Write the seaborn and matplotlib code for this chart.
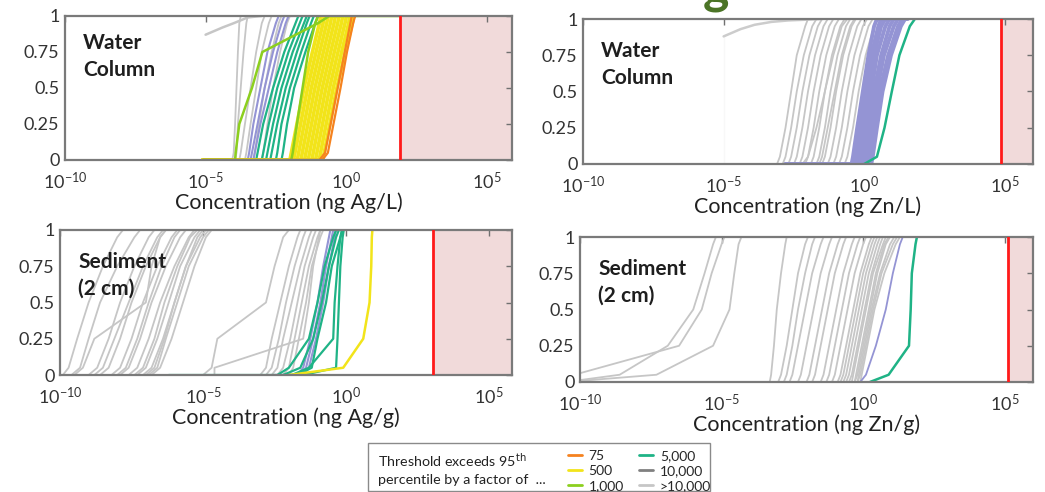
import numpy as np
import pandas as pd
import matplotlib
matplotlib.use("Agg")
import matplotlib.pyplot as plt
import seaborn as sns
from matplotlib.lines import Line2D
from matplotlib.patches import Rectangle
from matplotlib.ticker import NullLocator, FixedLocator

# ---------------- data (log10 concentration at each cumulative level) -------------
LEVELS = [0, 0, 0.05, 0.25, 0.5, 0.75, 0.95, 1, 1]

# Panel A : Ag, water column (ng Ag/L)
ag_w_gt10000 = [
    [-5.1, -4.05, -4.0, -3.95, -3.9, -3.85, -3.8, -3.75, -3.5],
    [-5.1, -3.95, -3.9, -3.85, -3.75, -3.65, -3.55, -3.5, -3.0],
    [-5.1, -3.8, -3.75, -3.6, -3.4, -3.2, -3.0, -2.9, -2.5],
    [-5.1, -3.6, -3.55, -3.4, -3.2, -3.0, -2.75, -2.65, -2.3],
    [-5.1, -3.3, -3.25, -3.1, -2.9, -2.65, -2.4, -2.3, -2.0],
    [-5.1, -3.0, -2.95, -2.8, -2.6, -2.35, -2.1, -2.0, -1.8],
]
ag_w_arc_x = [-5.0, -4.4, -4.0, -3.5, -3.0]
ag_w_arc_y = [0.87, 0.92, 0.95, 0.99, 1.0]
ag_w_10000 = [
    [-5.1, -3.5, -3.45, -3.3, -3.05, -2.8, -2.5, -2.4, -2.0],
    [-5.1, -3.4, -3.35, -3.15, -2.9, -2.6, -2.3, -2.2, -1.9],
    [-5.1, -3.3, -3.25, -3.05, -2.75, -2.45, -2.15, -2.05, -1.8],
]
ag_w_5000 = [
    [-5.1, -3.2, -3.15, -2.95, -2.6, -2.2, -1.8, -1.7, -1.6],
    [-5.1, -3.0, -2.95, -2.75, -2.45, -2.05, -1.65, -1.55, -1.4],
    [-5.1, -2.85, -2.8, -2.6, -2.3, -1.9, -1.5, -1.4, -1.3],
    [-5.1, -2.7, -2.65, -2.45, -2.15, -1.75, -1.4, -1.3, -1.2],
    [-5.1, -2.5, -2.45, -2.3, -2.0, -1.6, -1.25, -1.15, -1.0],
    [-5.1, -2.3, -2.25, -2.1, -1.85, -1.45, -1.1, -1.0, -0.9],
]
ag_w_1000 = [
    [-5.1, -3.95, -3.93, -3.8, -3.35, -2.98, -1.0, -0.6, 1.87],
    [-5.1, -1.95, -1.9, -1.75, -1.55, -1.35, -1.1, -1.0, -0.9],
]
ag_w_500 = [
    [-5.1, -2.0, -1.95, -1.75, -1.5, -1.2, -0.95, -0.9, -0.8],
    [-5.1, -1.87, -1.82, -1.62, -1.37, -1.07, -0.82, -0.77, -0.6],
    [-5.1, -1.74, -1.69, -1.49, -1.24, -0.94, -0.69, -0.64, -0.5],
    [-5.1, -1.61, -1.56, -1.36, -1.11, -0.81, -0.56, -0.51, -0.4],
    [-5.1, -1.48, -1.43, -1.23, -0.98, -0.68, -0.43, -0.38, -0.3],
    [-5.1, -1.35, -1.3, -1.1, -0.85, -0.55, -0.3, -0.25, -0.2],
    [-5.1, -1.22, -1.17, -0.97, -0.72, -0.42, -0.17, -0.12, -0.1],
    [-5.1, -1.09, -1.04, -0.84, -0.59, -0.29, -0.04, 0.01, 0.05],
    [-5.1, -0.96, -0.91, -0.71, -0.46, -0.16, 0.09, 0.14, 0.15],
    [-5.1, -0.83, -0.78, -0.58, -0.33, -0.03, 0.22, 0.27, 0.3],
]
ag_w_75 = [
    [-5.1, -0.95, -0.75, -0.55, -0.3, -0.05, 0.15, 0.2, 0.25],
    [-5.1, -0.85, -0.65, -0.45, -0.2, 0.03, 0.25, 0.32, 0.35],
]

# Panel B : Zn, water column (ng Zn/L)
zn_w_gt10000 = [
    [-3.7, -3.1, -3.0, -2.8, -2.6, -2.4, -2.1, -2.0, -1.2],
    [-3.7, -2.9, -2.8, -2.6, -2.4, -2.15, -1.85, -1.7, -1.2],
    [-3.5, -2.7, -2.6, -2.4, -2.2, -1.95, -1.65, -1.5, -1.0],
    [-3.5, -2.5, -2.4, -2.2, -2.0, -1.75, -1.45, -1.3, -1.0],
    [-3.3, -2.3, -2.2, -2.0, -1.8, -1.55, -1.25, -1.1, -0.8],
    [-3.3, -2.1, -2.0, -1.8, -1.6, -1.35, -1.05, -0.9, -0.6],
    [-3.0, -1.9, -1.8, -1.6, -1.4, -1.15, -0.85, -0.7, -0.4],
    [-3.0, -1.7, -1.6, -1.4, -1.2, -0.95, -0.65, -0.5, -0.2],
    [-2.8, -1.5, -1.4, -1.2, -1.0, -0.75, -0.45, -0.3, 0.0],
    [-2.8, -1.3, -1.2, -1.0, -0.8, -0.55, -0.25, -0.1, 0.2],
    [-2.5, -1.1, -1.0, -0.8, -0.6, -0.35, -0.05, 0.1, 0.4],
    [-2.5, -0.9, -0.8, -0.6, -0.4, -0.15, 0.15, 0.3, 0.5],
    [-2.2, -0.7, -0.6, -0.4, -0.2, 0.05, 0.35, 0.5, 0.7],
    [-3.0, -2.2, -2.0, -1.7, -1.4, -1.1, -0.8, -0.6, -0.3],
    [-2.8, -1.6, -1.5, -1.3, -1.05, -0.8, -0.5, -0.35, 0.1],
]
zn_w_faint_x = [-5.0, -5.0]
zn_w_faint_y = [0.0, 0.88]
zn_w_arc_x = [-5.0, -4.4, -3.9, -3.3, -2.7, -1.5]
zn_w_arc_y = [0.88, 0.93, 0.96, 0.98, 0.99, 1.0]
zn_w_10000 = [
    [-2.8, -0.45, -0.4, -0.25, -0.05, 0.15, 0.35, 0.45, 0.8],
    [-2.8, -0.35, -0.3, -0.15, 0.05, 0.25, 0.5, 0.6, 0.9],
    [-2.5, -0.25, -0.2, -0.05, 0.15, 0.35, 0.6, 0.75, 1.0],
    [-2.5, -0.15, -0.1, 0.05, 0.25, 0.45, 0.75, 0.9, 1.1],
    [-2.2, -0.05, 0.0, 0.15, 0.35, 0.6, 0.9, 1.05, 1.2],
    [-2.2, 0.05, 0.1, 0.25, 0.45, 0.7, 1.05, 1.2, 1.3],
    [-2.0, 0.15, 0.2, 0.35, 0.55, 0.85, 1.2, 1.35, 1.45],
    [-2.0, 0.25, 0.3, 0.45, 0.65, 0.95, 1.3, 1.45, 1.55],
]
zn_w_5000 = [
    [0.0, 0.0, 0.45, 0.72, 0.98, 1.25, 1.62, 1.8, 1.8],
]

# Panel C : Ag, sediment 2 cm (ng Ag/g)
ag_s_gt10000 = [
    [-9.9, -9.9, -9.7, -9.4, -9.0, -8.5, -8.0, -7.8, -7.8],
    [-9.9, -9.6, -9.3, -9.0, -8.6, -8.0, -7.4, -7.2, -7.2],
    [-9.9, -9.5, -9.2, -8.8, -7.0, -6.8, -6.5, -6.3, -6.3],
    [-9.8, -9.0, -8.7, -8.3, -7.9, -7.4, -6.9, -6.7, -6.7],
    [-9.5, -8.6, -8.3, -7.9, -7.5, -7.0, -6.5, -6.3, -6.3],
    [-9.0, -8.2, -7.9, -7.5, -7.1, -6.6, -6.1, -5.9, -5.9],
    [-8.8, -7.9, -7.6, -7.2, -6.8, -6.3, -5.8, -5.6, -5.6],
    [-8.5, -7.6, -7.3, -6.9, -6.5, -6.0, -5.5, -5.3, -5.3],
    [-8.2, -7.3, -7.0, -6.6, -6.2, -5.8, -5.3, -5.1, -5.1],
    [-8.0, -7.1, -6.8, -6.4, -6.0, -5.6, -5.1, -4.9, -4.9],
    [-7.8, -6.9, -6.6, -6.3, -5.9, -5.5, -5.0, -4.8, -4.8],
    [-7.5, -6.8, -6.5, -6.1, -5.7, -5.3, -4.9, -4.7, -4.7],
    [-8.6, -7.4, -7.1, -6.7, -6.35, -5.9, -5.45, -5.2, -5.2],
    [-8.3, -7.0, -6.7, -6.35, -6.0, -5.6, -5.2, -5.0, -5.0],
    [-9.7, -8.8, -8.5, -8.1, -7.6, -7.1, -6.6, -6.4, -6.4],
    [-9.2, -8.0, -7.7, -7.3, -6.9, -6.45, -6.0, -5.8, -5.8],
    [-6.5, -5.0, -4.7, -4.5, -2.8, -2.5, -2.2, -2.0, -2.0],
    [-4.5, -3.0, -2.8, -2.6, -2.3, -2.0, -1.7, -1.6, -1.6],
    [-4.0, -2.8, -2.6, -2.35, -2.1, -1.8, -1.5, -1.4, -1.4],
    [-4.7, -2.6, -2.4, -2.2, -1.9, -1.6, -1.3, -1.2, -1.2],
    [-3.5, -2.4, -2.2, -1.95, -1.7, -1.45, -1.15, -1.05, -1.05],
    [-4.5, -2.2, -2.0, -1.8, -1.55, -1.3, -1.0, -0.9, -0.9],
    [-3.0, -2.0, -1.85, -1.65, -1.4, -1.2, -0.9, -0.8, -0.8],
    [-4.7, -4.6, -4.6, -1.5, -1.3, -1.15, -0.95, -0.9, -0.9],
]
ag_s_10000 = [
    [-2.5, -1.7, -1.5, -1.25, -1.0, -0.8, -0.6, -0.55, -0.55],
    [-2.5, -1.6, -1.4, -1.15, -0.9, -0.7, -0.5, -0.45, -0.45],
    [-2.5, -1.5, -1.3, -1.05, -0.8, -0.6, -0.4, -0.35, -0.35],
]
ag_s_5000 = [
    [-6.2, -2.4, -2.0, -1.3, -1.0, -0.75, -0.45, -0.35, -0.35],
    [-2.4, -2.2, -1.6, -1.15, -0.85, -0.6, -0.35, -0.25, -0.25],
    [-2.2, -1.9, -1.3, -0.45, -0.4, -0.3, -0.2, -0.15, -0.15],
    [-2.0, -1.7, -1.2, -1.0, -0.7, -0.5, -0.2, -0.1, -0.1],
    [-1.8, -1.5, -0.35, -0.3, -0.25, -0.2, -0.12, -0.08, -0.08],
]
ag_s_500 = [
    [-2.0, -2.0, -0.1, 0.6, 0.82, 0.88, 0.9, 0.92, 0.92],
]

# Panel D : Zn, sediment 2 cm (ng Zn/g)
zn_s_gt10000 = [
    [-10.5, -10.5, -10.2, -6.5, -5.7, -5.35, -5.0, -4.9, -4.9],
    [-10.5, -10.5, -7.3, -5.3, -4.72, -4.55, -4.4, -4.3, -4.3],
    [-10.5, -10.5, -8.6, -6.9, -6.0, -5.6, -5.3, -5.2, -5.2],
    [-5.0, -3.3, -3.25, -3.15, -3.05, -2.9, -2.75, -2.7, -2.7],
    [-5.0, -3.0, -2.9, -2.7, -2.5, -2.3, -2.05, -1.95, -1.95],
    [-4.5, -2.8, -2.7, -2.5, -2.3, -2.05, -1.8, -1.7, -1.7],
    [-4.5, -2.6, -2.5, -2.3, -2.05, -1.8, -1.5, -1.4, -1.4],
    [-4.0, -2.3, -2.2, -2.0, -1.75, -1.5, -1.2, -1.1, -1.1],
    [-4.0, -2.0, -1.9, -1.7, -1.45, -1.2, -0.9, -0.8, -0.8],
    [-3.5, -1.8, -1.7, -1.5, -1.25, -1.0, -0.7, -0.6, -0.6],
    [-3.5, -1.5, -1.4, -1.2, -0.95, -0.7, -0.4, -0.3, -0.3],
    [-3.0, -1.3, -1.2, -1.0, -0.75, -0.5, -0.2, -0.1, -0.1],
    [-3.0, -1.1, -1.0, -0.8, -0.55, -0.3, 0.0, 0.1, 0.1],
    [-2.5, -0.9, -0.8, -0.6, -0.35, -0.1, 0.2, 0.3, 0.3],
    [-2.5, -0.7, -0.6, -0.4, -0.15, 0.1, 0.4, 0.5, 0.5],
    [-2.0, -0.5, -0.4, -0.2, 0.05, 0.3, 0.6, 0.7, 0.7],
    [-2.0, -0.3, -0.25, -0.05, 0.2, 0.45, 0.75, 0.9, 0.9],
    [-1.5, -0.2, -0.15, 0.05, 0.3, 0.6, 0.95, 1.1, 1.1],
    [-1.5, -0.1, -0.05, 0.15, 0.4, 0.75, 1.15, 1.3, 1.3],
    [-1.2, -0.3, -0.2, 0.0, 0.25, 0.5, 0.8, 0.95, 0.95],
    [-1.2, -0.6, -0.5, -0.3, -0.05, 0.2, 0.5, 0.6, 0.6],
    [-2.2, -0.8, -0.7, -0.5, -0.25, 0.0, 0.3, 0.4, 0.4],
    [-2.2, -0.4, -0.35, -0.15, 0.1, 0.35, 0.7, 0.8, 0.8],
    [-1.8, -0.2, -0.1, 0.1, 0.35, 0.65, 1.05, 1.2, 1.2],
]
zn_s_10000 = [
    [-0.5, -0.1, 0.1, 0.45, 0.8, 1.05, 1.3, 1.4, 1.4],
]
zn_s_5000 = [
    [0.24, 0.24, 0.9, 1.62, 1.68, 1.72, 1.85, 1.9, 1.9],
]

# thresholds (log10) where the red line / shaded zone begins
thresholds = [1.9, 4.85, 3.05, 5.1]
x_max = [5.9, 6.0, 5.8, 6.0]
panel_labels = ["Water\nColumn", "Water\nColumn", "Sediment\n(2 cm)", "Sediment\n(2 cm)"]
x_labels = ["Concentration (ng Ag/L)", "Concentration (ng Zn/L)",
            "Concentration (ng Ag/g)", "Concentration (ng Zn/g)"]
legend_labels = ["75", "500", "1,000", "5,000", "10,000", ">10,000"]

# ---------------- styling ----------------
C75, C500, C1000, C5000, C10000, CGT = "#f5821f", "#f2e41a", "#8ccf1e", "#1fb386", "#9494d4", "#c6c6c6"
LEG_COLORS = [C75, C500, C1000, C5000, "#808080", CGT]

sns.set_theme(style="white")
plt.rcParams["font.family"] = ["Lato", "DejaVu Sans"]

fig = plt.figure(figsize=(10.45, 4.92), dpi=100)
W, H = 1045, 492
boxes = [(65, 512, 16, 160), (583, 1033, 19, 164), (60, 512, 230, 375), (580, 1033, 237, 382)]


def frame(curves):
    rows = []
    for i, c in enumerate(curves):
        for lv, y in zip(c, LEVELS):
            rows.append((i, 10.0 ** lv, y))
    return pd.DataFrame(rows, columns=["curve", "conc", "cdf"])


panels = [
    [(ag_w_gt10000, CGT, 1.3), (ag_w_10000, C10000, 1.5), (ag_w_5000, C5000, 1.6),
     (ag_w_500, C500, 2.6), (ag_w_1000, C1000, 1.8), (ag_w_75, C75, 1.6)],
    [(zn_w_gt10000, CGT, 1.3), (zn_w_10000, C10000, 2.8), (zn_w_5000, C5000, 1.8)],
    [(ag_s_gt10000, CGT, 1.3), (ag_s_10000, C10000, 1.5), (ag_s_5000, C5000, 1.6),
     (ag_s_500, C500, 1.8)],
    [(zn_s_gt10000, CGT, 1.3), (zn_s_10000, C10000, 1.3), (zn_s_5000, C5000, 1.8)],
]

for k, (l, r, t, b) in enumerate(boxes):
    ax = fig.add_axes([l / W, 1 - b / H, (r - l) / W, (b - t) / H])
    ax.set_xscale("log")
    ax.axvspan(10 ** thresholds[k], 10 ** x_max[k], color="#f1dada", zorder=0, lw=0)
    if k == 1:
        sns.lineplot(x=[10.0 ** v for v in zn_w_faint_x], y=zn_w_faint_y, sort=False,
                     color="#e0e0e0", lw=1.2, ax=ax, legend=False)
        sns.lineplot(x=[10.0 ** v for v in zn_w_arc_x], y=zn_w_arc_y, sort=False,
                     color="#cccccc", lw=1.8, ax=ax, legend=False)
    if k == 0:
        sns.lineplot(x=[10.0 ** v for v in ag_w_arc_x], y=ag_w_arc_y, sort=False,
                     color=CGT, lw=1.8, ax=ax, legend=False)
    for curves, col, lw in panels[k]:
        sns.lineplot(data=frame(curves), x="conc", y="cdf", units="curve", estimator=None,
                     sort=False, color=col, lw=lw, ax=ax, legend=False)
    ax.axvline(10 ** thresholds[k], color="#ff1a1a", lw=2, zorder=5)

    ax.set_xlim(1e-10, 10 ** x_max[k])
    ax.set_ylim(0, 1)
    ax.xaxis.set_major_locator(FixedLocator([1e-10, 1e-5, 1e0, 1e5]))
    ax.xaxis.set_minor_locator(NullLocator())
    ax.set_yticks([0, 0.25, 0.5, 0.75, 1])
    ax.set_yticklabels(["0", "0.25", "0.5", "0.75", "1"])
    ax.tick_params(direction="in", top=True, right=True, length=4, width=1,
                   color="#707070", labelsize=13, labelcolor="#333333", pad=4)
    ax.tick_params(axis="x", pad=8)
    for s in ax.spines.values():
        s.set_color("#7a7a7a")
        s.set_linewidth(1.6)
    ax.set_xlabel(x_labels[k], fontsize=15.5, color="#222222", labelpad=0)
    ax.set_ylabel("")
    ax.text(0.04, 0.88 if k == 0 else 0.85, panel_labels[k], transform=ax.transAxes,
            ha="left", va="top", fontsize=15, fontweight="bold", color="#1e1e1e",
            linespacing=1.45, zorder=6)

# cut-off title fragment at the very top
fig.text(703 / W, 1 - 3 / H, "g", fontsize=36, fontweight="bold", color="#4b7426",
         ha="left", va="baseline")

# legend box
fig.add_artist(Rectangle((368 / W, 1 - 491 / H), (710 - 368) / W, (491 - 443) / H,
                         transform=fig.transFigure, facecolor="white",
                         edgecolor="#8a8a8a", lw=1))
fig.text(378 / W, 1 - 460 / H, "Threshold exceeds 95$^{\\mathrm{th}}$", fontsize=10.3,
         color="#222222", va="center", ha="left")
fig.text(378 / W, 1 - 480 / H, "percentile by a factor of  ...", fontsize=10.3,
         color="#222222", va="center", ha="left")
handles = [Line2D([], [], color=c, lw=2) for c in LEG_COLORS]
fig.legend(handles, legend_labels, ncol=2, loc="upper left",
           bbox_to_anchor=(558 / W, 1 - 440 / H), frameon=False, fontsize=10,
           handlelength=1.0, handletextpad=0.5, labelspacing=0.22, columnspacing=1.1,
           borderpad=0.2)

fig.savefig("out.png", dpi=100)
